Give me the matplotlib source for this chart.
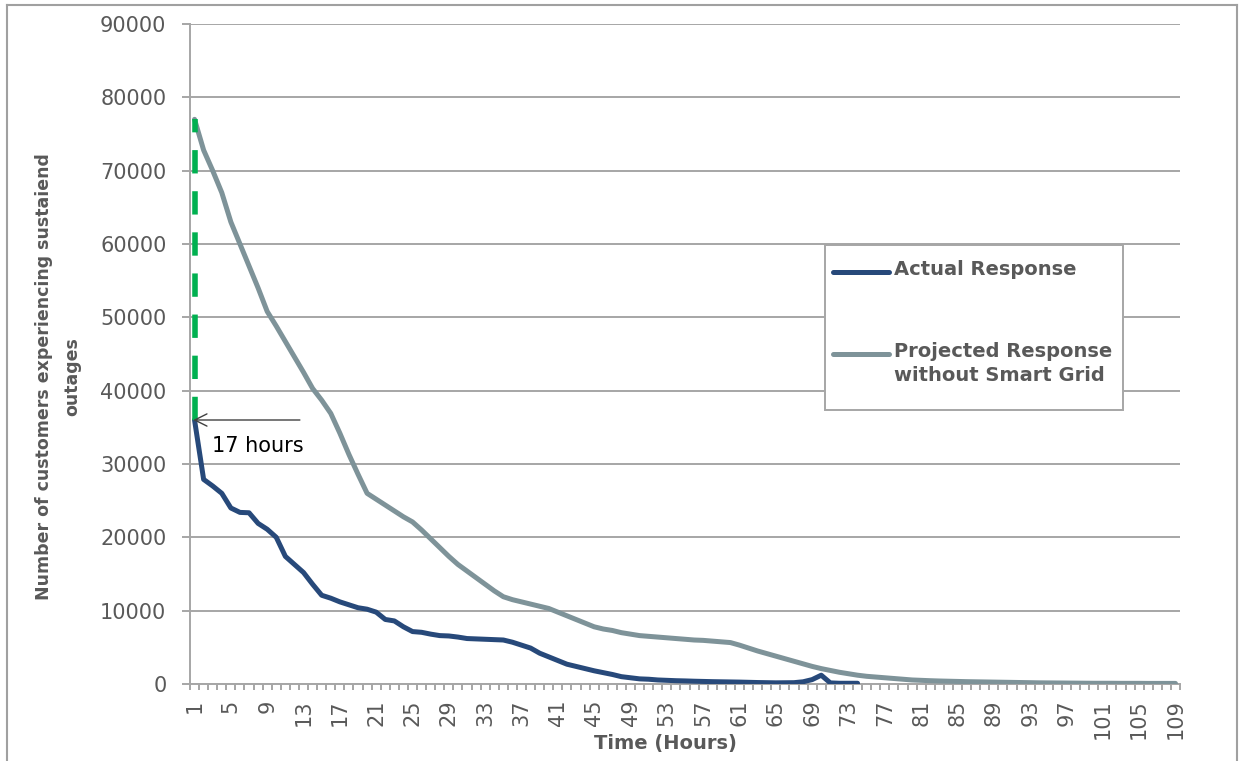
import matplotlib.pyplot as plt
from matplotlib.lines import Line2D
from matplotlib.patches import Rectangle
import numpy as np

# data (hours 1..109)
hours = list(range(1, 110))
projected = [77000, 72800, 70000, 67000, 63000, 60000, 57000, 54000, 50800, 48800,
             46700, 44600, 42500, 40300, 38700, 36900, 34200, 31300, 28600, 26000,
             25200, 24400, 23600, 22800, 22100, 21000, 19800, 18600, 17400, 16300,
             15400, 14500, 13600, 12700, 11900, 11500, 11200, 10900, 10600, 10300,
             9800, 9300, 8800, 8300, 7800, 7500, 7300, 7000, 6800, 6600,
             6500, 6400, 6300, 6200, 6100, 6000, 5950, 5850, 5750, 5650,
             5300, 4900, 4500, 4150, 3800, 3450, 3100, 2750, 2400, 2100,
             1850, 1600, 1400, 1200, 1050, 950, 850, 750, 650, 550,
             500, 450, 410, 380, 350, 320, 300, 280, 260, 240,
             220, 200, 180, 160, 150, 140, 130, 120, 110, 100,
             100, 100, 90, 90, 90, 80, 80, 80, 80]
actual = [36000, 27900, 27000, 26000, 24000, 23400, 23350, 21900, 21100, 20000,
          17400, 16300, 15200, 13600, 12100, 11700, 11200, 10800, 10400, 10200,
          9800, 8800, 8600, 7800, 7150, 7050, 6800, 6600, 6550, 6400,
          6200, 6150, 6100, 6050, 6000, 5700, 5300, 4900, 4200, 3700,
          3200, 2700, 2400, 2100, 1800, 1550, 1300, 1000, 850, 700,
          650, 550, 500, 450, 420, 380, 350, 320, 300, 280,
          260, 230, 200, 180, 160, 170, 180, 300, 600, 1200,
          150, 100, 100, 100]
labels = ["Actual Response", "Projected Response\nwithout Smart Grid"]
gap_start, gap_end = 77000, 35000

c_actual = '#27497A'
c_proj = '#7E9399'
c_grid = '#A6A6A6'
c_text = '#595959'

W, H = 1243, 761
fig = plt.figure(figsize=(W / 100, H / 100), dpi=100)

def fx(px):
    return px / W

def fy(py):
    return 1 - py / H

ax = fig.add_axes([fx(190), fy(684), fx(1180) - fx(190), fy(24) - fy(684)])

ax.plot(hours, projected, color=c_proj, lw=3.6, solid_joinstyle='round', solid_capstyle='round', zorder=3)
ax.plot(hours[:len(actual)], actual, color=c_actual, lw=3.6, solid_joinstyle='round', solid_capstyle='round', zorder=4)
ax.plot([1, 1], [gap_start, gap_end], color='#00B050', lw=4, linestyle=(1.8, (4.2, 3.2)), zorder=5)

ax.annotate('', xy=(0.85, 36000), xytext=(12.6, 36000),
            arrowprops=dict(arrowstyle='->', color='#404040', lw=1, mutation_scale=22,
                            shrinkA=0, shrinkB=0), zorder=6)
ax.text(2.9, 32500, '17 hours', fontsize=15, color='black', va='center', ha='left')

ax.set_xlim(0.5, 109.5)
ax.set_ylim(0, 90000)
ax.set_yticks(range(0, 90001, 10000))
ax.set_xticks(hours[::4])
ax.set_xticklabels([str(h) for h in hours[::4]], rotation=90)
ax.set_xticks(np.arange(0.5, 110, 1), minor=True)

ax.grid(axis='y', color=c_grid, lw=1.4)
ax.set_axisbelow(True)
for s in ['top', 'right']:
    ax.spines[s].set_visible(False)
for s in ['left', 'bottom']:
    ax.spines[s].set_color(c_grid)
    ax.spines[s].set_linewidth(1.4)

ax.tick_params(axis='y', length=6, width=1.4, color=c_grid, pad=11, labelsize=15, labelcolor=c_text)
ax.tick_params(axis='x', which='major', length=0, pad=11, labelsize=15, labelcolor=c_text)
ax.tick_params(axis='x', which='minor', length=4.5, width=1.4, color=c_grid)

fig.text(fx(665), fy(744), 'Time (Hours)', fontsize=14, fontweight='bold', color=c_text,
         ha='center', va='center')
fig.text(fx(58), fy(377), 'Number of customers experiencing sustaiend\noutages',
         rotation=90, ha='center', va='center', multialignment='center',
         fontsize=12.5, fontweight='bold', color=c_text, linespacing=1.7)

# legend box
fig.add_artist(Rectangle((fx(825), fy(410)), fx(1123) - fx(825), fy(245) - fy(410),
                         transform=fig.transFigure, facecolor='white', edgecolor=c_grid, lw=1.4))
for (yy, col, lab) in [(272, c_actual, labels[0]), (354, c_proj, labels[1])]:
    fig.add_artist(Line2D([fx(833), fx(889)], [fy(yy), fy(yy)], transform=fig.transFigure,
                          color=col, lw=3.6, solid_capstyle='round'))
    fig.text(fx(894), fy(yy - 12), lab, fontsize=14, fontweight='bold', color=c_text,
             ha='left', va='top', linespacing=1.35)

# outer border
for xs, ys in [([7, 1237], [5, 5]), ([7, 7], [5, 770]), ([1237, 1237], [5, 770])]:
    fig.add_artist(Line2D([fx(x) for x in xs], [fy(y) for y in ys], transform=fig.transFigure,
                          color='#A0A0A0', lw=1.5))

fig.savefig('out.png', dpi=100)
